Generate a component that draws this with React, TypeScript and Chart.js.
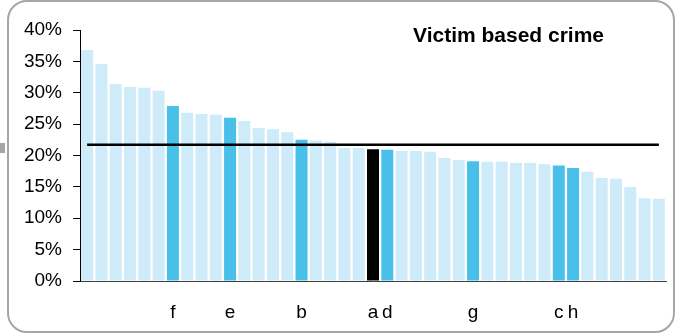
import React, { useEffect, useRef } from "react";
import { Chart, registerables } from "chart.js";

Chart.register(...registerables);

// Category labels (only highlighted areas are labelled)
const categories: string[] = [
  "", "", "", "", "", "",
  "f",
  "", "", "",
  "e",
  "", "", "", "",
  "b",
  "", "", "", "",
  "a",
  "d",
  "", "", "", "", "",
  "g",
  "", "", "", "", "",
  "c",
  "h",
  "", "", "", "", "", "",
];

// Victim based crime rate (%)
const values: number[] = [
  36.8, 34.6, 31.4, 30.9, 30.8, 30.3, 27.9, 26.8, 26.6, 26.5,
  26.0, 25.5, 24.4, 24.2, 23.7, 22.5, 22.4, 22.2, 21.2, 21.2,
  21.0, 20.9, 20.7, 20.7, 20.6, 19.6, 19.3, 19.1, 19.0, 19.0,
  18.8, 18.8, 18.6, 18.4, 18.0, 17.4, 16.4, 16.3, 15.0, 13.2,
  13.1,
];

// Average level (horizontal reference line)
const averageValue = 21.7;

const yMin = 0;
const yMax = 40;
const yStep = 5;

const titleText = "Victim based crime";

const LIGHT = "#cdebf8";
const HIGHLIGHT = "#48c0ea";
const FOCUS = "#000000";
const FONT = "'Liberation Sans', Arial, sans-serif";

export default function App() {
  const canvasRef = useRef<HTMLCanvasElement | null>(null);

  useEffect(() => {
    const canvas = canvasRef.current;
    if (!canvas) return;
    const colors = categories.map((c) =>
      c === "a" ? FOCUS : c !== "" ? HIGHLIGHT : LIGHT
    );
    const chart = new Chart(canvas, {
      type: "bar",
      data: {
        labels: categories,
        datasets: [
          {
            type: "line",
            data: categories.map(() => averageValue),
            borderColor: "#000",
            borderWidth: 2.5,
            pointRadius: 0,
            fill: false,
            order: 1,
          } as any,
          {
            type: "bar",
            data: values,
            backgroundColor: colors,
            borderWidth: 0,
            barPercentage: 0.84,
            categoryPercentage: 1,
            order: 2,
          },
        ],
      },
      options: {
        animation: false,
        responsive: false,
        layout: { padding: { left: 0, right: 9, top: 30, bottom: 0 } },
        plugins: {
          legend: { display: false },
          tooltip: { enabled: false },
          title: { display: false },
        },
        scales: {
          x: {
            offset: true,
            grid: {
              drawOnChartArea: false,
              drawTicks: true,
              tickLength: 20,
              color: "rgba(0,0,0,0)",
            },
            border: { display: true, color: "#404040", width: 1 },
            ticks: {
              autoSkip: false,
              maxRotation: 0,
              minRotation: 0,
              padding: 0,
              color: "#000",
              font: { family: FONT, size: 19 },
            },
            afterFit: (s: any) => {
              s.height = 53;
            },
          },
          y: {
            min: yMin,
            max: yMax,
            grid: {
              drawOnChartArea: false,
              drawTicks: true,
              tickLength: 7,
              color: "#000",
            },
            border: { display: true, color: "#000", width: 1 },
            ticks: {
              stepSize: yStep,
              padding: 11,
              color: "#000",
              font: { family: FONT, size: 19 },
              callback: (v: any) => v + "%",
            },
            afterFit: (s: any) => {
              s.width = 80;
            },
          },
        },
      },
    });
    return () => chart.destroy();
  }, []);

  return (
    <div
      style={{
        position: "absolute",
        left: 0,
        top: 0,
        width: 675,
        height: 334,
        overflow: "hidden",
        background: "#fff",
      }}
    >
      <div
        style={{
          position: "absolute",
          left: 7,
          top: 0,
          width: 668,
          height: 333,
          boxSizing: "border-box",
          border: "2px solid #a6a6a6",
          borderRadius: 20,
        }}
      />
      <div
        style={{
          position: "absolute",
          left: 0,
          top: 143,
          width: 5,
          height: 10,
          background: "#a6a6a6",
        }}
      />
      <canvas
        ref={canvasRef}
        width={675}
        height={334}
        style={{ position: "absolute", left: 0, top: 0, display: "block" }}
      />
      <div
        style={{
          position: "absolute",
          left: 413,
          top: 24,
          fontFamily: FONT,
          fontWeight: "bold",
          fontSize: 21,
          lineHeight: "21px",
          whiteSpace: "nowrap",
          color: "#000",
        }}
      >
        {titleText}
      </div>
    </div>
  );
}
